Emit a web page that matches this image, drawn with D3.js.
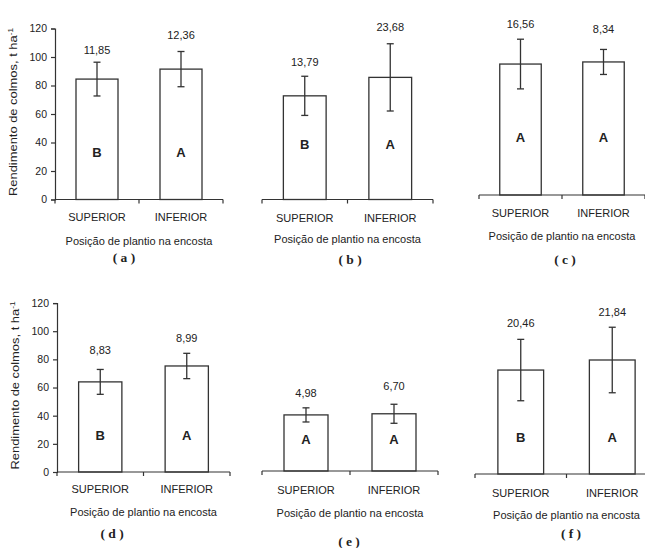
<!DOCTYPE html>
<html>
<head>
<meta charset="utf-8">
<script src="https://cdn.jsdelivr.net/npm/d3@7"></script>
<style>
  html, body { margin: 0; padding: 0; background: #fff; }
  svg { display: block; }
  text { font-family: "Liberation Sans", Arial, sans-serif; fill: #222; }
</style>
</head>
<body>
<svg id="chart" width="645" height="548"></svg>
<script>
// ---- data ----
const categories = ["SUPERIOR", "INFERIOR"];
const panelIds = ["a", "b", "c", "d", "e", "f"];
const means = [
  [84.5, 91.5],
  [73.0, 86.0],
  [87.3, 88.7],
  [64.0, 75.3],
  [39.5, 40.3],
  [69.3, 76.0]
];
const errors = [
  [11.85, 12.36],
  [13.79, 23.68],
  [16.56, 8.34],
  [8.83, 8.99],
  [4.98, 6.70],
  [20.46, 21.84]
];
const letters = [
  ["B", "A"],
  ["B", "A"],
  ["A", "A"],
  ["B", "A"],
  ["A", "A"],
  ["B", "A"]
];
const yTicks = [0, 20, 40, 60, 80, 100, 120];
const yTitle = "Rendimento de colmos, t ha";
const yTitleSup = "-1";
const xTitle = "Posição de plantio na encosta";

// ---- layout (positions only) ----
const layout = [
  {x0: 55,  x1: 223, y0: 199.5, k: 1.425, showY: true,  catY: 217, titleY: 241, labX: 124, labY: 257, letterY: 152, gaps: [12, 16]},
  {x0: 262, x1: 433, y0: 199.5, k: 1.42,  showY: false, catY: 218, titleY: 239, labX: 350, labY: 259, letterY: 144, gaps: [14, 16.6]},
  {x0: 479, x1: 645, y0: 195,   k: 1.5,   showY: false, catY: 213, titleY: 236, labX: 565, labY: 259, letterY: 137, gaps: [15, 20]},
  {x0: 57,  x1: 230, y0: 472,   k: 1.408, showY: true,  catY: 489, titleY: 512, labX: 112, labY: 533, letterY: 435, gaps: [19.4, 15]},
  {x0: 262, x1: 438, y0: 471,   k: 1.42,  showY: false, catY: 490, titleY: 513, labX: 349, labY: 541, letterY: 439, gaps: [15, 17.7]},
  {x0: 475, x1: 658, y0: 474,   k: 1.5,   showY: false, catY: 493, titleY: 515, labX: 571, labY: 533, letterY: 437, gaps: [16.6, 15.4]}
];

const svg = d3.select("#chart");
const lineColor = "#333";
const fmt = v => d3.format(".2f")(v).replace(".", ",");

panelIds.forEach((id, p) => {
  const L = layout[p];
  const g = svg.append("g");
  const x = d3.scaleBand().domain(categories).range([L.x0, L.x1]).padding(0);
  const y = d3.scaleLinear().domain([0, 120]).range([L.y0, L.y0 - 120 * L.k]);
  const bw = x.bandwidth() * 0.5;

  // y axis
  if (L.showY) {
    const ya = g.append("g").attr("transform", `translate(${L.x0},0)`)
      .call(d3.axisLeft(y).tickValues(yTicks).tickSize(4).tickPadding(4).tickFormat(d3.format("d")));
    ya.select(".domain").attr("stroke", lineColor).attr("stroke-width", 1.2);
    ya.selectAll(".tick line").attr("stroke", lineColor).attr("stroke-width", 1.2);
    ya.selectAll(".tick text").style("font-family", "Liberation Sans, Arial, sans-serif")
      .style("font-size", "10.5px").attr("fill", "#222");

    const cy = (y(0) + y(120)) / 2 - 2;
    const t = g.append("text")
      .attr("transform", `translate(${L.x0 - 38},${cy}) rotate(-90)`)
      .attr("text-anchor", "middle")
      .style("font-size", "11px")
      .attr("textLength", 168)
      .attr("lengthAdjust", "spacingAndGlyphs");
    t.append("tspan").text(yTitle);
    t.append("tspan").attr("dy", -4).style("font-size", "7px").text(yTitleSup);
  }

  // bars
  categories.forEach((c, i) => {
    const cx = x(c) + x.bandwidth() / 2;
    const m = means[p][i], e = errors[p][i];
    g.append("rect")
      .attr("x", cx - bw / 2).attr("y", y(m))
      .attr("width", bw).attr("height", y(0) - y(m))
      .attr("fill", "#fff").attr("stroke", lineColor).attr("stroke-width", 1.3);
    // error bar
    const eb = g.append("g").attr("stroke", lineColor).attr("stroke-width", 1.3);
    eb.append("line").attr("x1", cx).attr("x2", cx).attr("y1", y(m + e)).attr("y2", y(m - e));
    eb.append("line").attr("x1", cx - 3.5).attr("x2", cx + 3.5).attr("y1", y(m + e)).attr("y2", y(m + e));
    eb.append("line").attr("x1", cx - 3.5).attr("x2", cx + 3.5).attr("y1", y(m - e)).attr("y2", y(m - e));
    // value label
    g.append("text").attr("x", cx).attr("y", y(m + e) - L.gaps[i]).attr("dy", "0.35em")
      .attr("text-anchor", "middle").style("font-size", "11px").text(fmt(e));
    // letter
    g.append("text").attr("x", cx).attr("y", L.letterY).attr("dy", "0.35em")
      .attr("text-anchor", "middle").style("font-size", "13px").style("font-weight", "bold")
      .text(letters[p][i]);
    // category label
    g.append("text").attr("x", cx).attr("y", L.catY).attr("dy", "0.35em")
      .attr("text-anchor", "middle").style("font-size", "11px").text(c);
  });

  // x axis line with ticks at band boundaries
  const xa = g.append("g").attr("stroke", lineColor).attr("stroke-width", 1.2);
  xa.append("line").attr("x1", L.x0).attr("x2", L.x1).attr("y1", L.y0).attr("y2", L.y0);
  const bounds = [L.x0, x(categories[1]), L.x1];
  bounds.forEach(bx => {
    xa.append("line").attr("x1", bx).attr("x2", bx).attr("y1", L.y0).attr("y2", L.y0 + 4);
  });

  // x title
  g.append("text").attr("x", x(categories[1])).attr("y", L.titleY).attr("dy", "0.35em")
    .attr("text-anchor", "middle").style("font-size", "11px").text(xTitle);

  // panel label
  g.append("text").attr("x", L.labX).attr("y", L.labY).attr("dy", "0.35em")
    .attr("text-anchor", "middle")
    .style("font-family", "Liberation Serif, Times New Roman, serif")
    .style("font-size", "13.5px").style("font-weight", "bold")
    .text(`( ${id} )`);
});
</script>
</body>
</html>
